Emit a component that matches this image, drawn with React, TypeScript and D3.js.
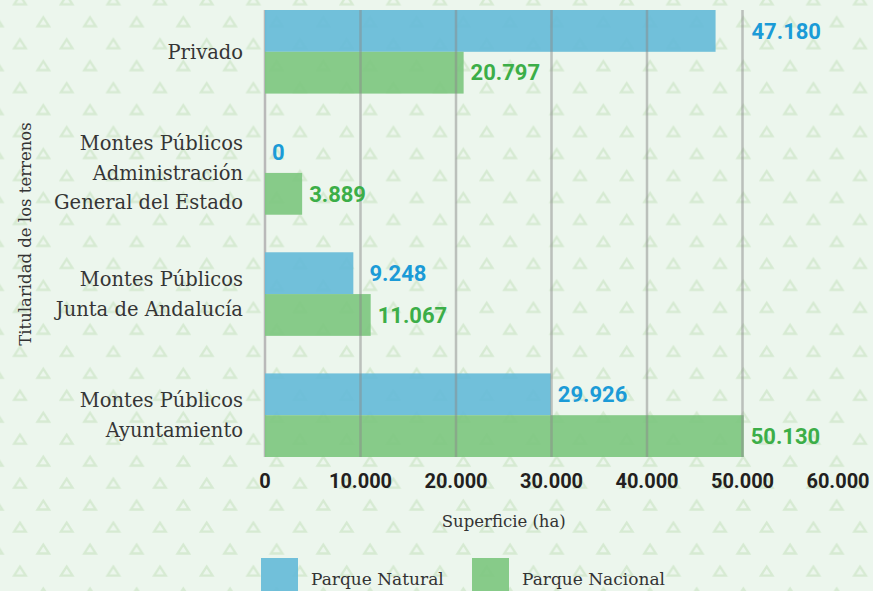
import React from 'react';
import * as d3 from 'd3';

const categories = [
  'Privado',
  'Montes Públicos\nAdministración\nGeneral del Estado',
  'Montes Públicos\nJunta de Andalucía',
  'Montes Públicos\nAyuntamiento',
];
const parqueNatural = [47180, 0, 9248, 29926];
const parqueNacional = [20797, 3889, 11067, 50130];
const xTicks = [0, 10000, 20000, 30000, 40000, 50000, 60000];
const seriesNames = ['Parque Natural', 'Parque Nacional'];

const W = 873;
const H = 591;
const BG = '#ecf6ed';
const TRI = '#d6eAd2';
const BAR_COLORS = ['#66bbd8', '#7ec780'];
const LABEL_COLORS = ['#1b9bd7', '#3cae48'];
const SERIF = '"Roboto Slab", "DejaVu Serif", serif';
const SANS = 'Roboto, "Open Sans", sans-serif';

const fmt = d3.formatLocale({ decimal: ',', thousands: '.', grouping: [3], currency: ['', ''] }).format(',');

// measure text for label placement
const ctx = typeof document !== 'undefined' ? document.createElement('canvas').getContext('2d') : null;
function textWidth(s: string, font: string) {
  if (!ctx) return s.length * 12;
  ctx.font = font;
  return ctx.measureText(s).width;
}

export default function App() {
  const x = d3.scaleLinear().domain([0, 60000]).range([265, 838]);
  const y = d3.scaleBand().domain(categories).range([10, 457]).paddingInner(0.31).paddingOuter(0);
  const inner = d3.scaleBand().domain(seriesNames).range([0, y.bandwidth()]).padding(0);
  const gridTicks = xTicks.filter(t => t > 0 && t < 60000);
  const valueFont = `700 22px Roboto`;

  // value label right of the bar; if a gridline would cut its first half, move it past the line
  const labelX = (v: number) => {
    const w = textWidth(fmt(v), valueFont);
    let start = x(v) + 7;
    for (const t of gridTicks) {
      const gx = x(t);
      if (gx >= start - 4 && gx <= start + w / 2) start = gx + 9;
    }
    return start;
  };

  const series = [parqueNatural, parqueNacional];
  const gridTop = y.range()[0];
  const gridBottom = y.range()[1];
  const titleX = (x(0) + x(50000)) / 2;

  return (
    <div style={{ position: 'absolute', left: 0, top: 0 }}>
      <svg width={W} height={H} style={{ display: 'block' }}>
        <defs>
          <pattern id="tri" patternUnits="userSpaceOnUse" x={8.33} y={10.7} width={46.67} height={43.94}>
            <path d="M35,6.5 L40.8,15.5 L29.2,15.5 Z" fill="none" stroke={TRI} strokeWidth={2.3} />
            <path d="M11.67,28.5 L17.47,37.5 L5.87,37.5 Z" fill="none" stroke={TRI} strokeWidth={2.3} />
          </pattern>
        </defs>
        <rect width={W} height={H} fill={BG} />
        <rect width={W} height={H} fill="url(#tri)" />

        {/* zero axis */}
        <line x1={x(0)} x2={x(0)} y1={gridTop} y2={gridBottom} stroke="#b9b9b9" strokeWidth={2.5} />

        {/* bars */}
        {categories.map((c, i) =>
          series.map((s, j) =>
            s[i] > 0 ? (
              <rect
                key={`${i}-${j}`}
                x={x(0)}
                y={(y(c) ?? 0) + (inner(seriesNames[j]) ?? 0)}
                width={x(s[i]) - x(0)}
                height={inner.bandwidth()}
                fill={BAR_COLORS[j]}
                fillOpacity={0.92}
              />
            ) : null
          )
        )}

        {/* grid lines */}
        {gridTicks.map(t => (
          <line key={t} x1={x(t)} x2={x(t)} y1={gridTop} y2={gridBottom} stroke="#8a8a8a" strokeOpacity={0.5} strokeWidth={2.5} />
        ))}

        {/* value labels */}
        {categories.map((c, i) =>
          series.map((s, j) => (
            <text
              key={`l${i}-${j}`}
              x={labelX(s[i])}
              y={(y(c) ?? 0) + (inner(seriesNames[j]) ?? 0) + inner.bandwidth() / 2}
              dy="0.35em"
              fill={LABEL_COLORS[j]}
              fontFamily={SANS}
              fontWeight={700}
              fontSize={22}
            >
              {fmt(s[i])}
            </text>
          ))
        )}

        {/* category labels */}
        {categories.map(c => {
          const lines = c.split('\n');
          const lh = 29.5;
          const cy = (y(c) ?? 0) + y.bandwidth() / 2;
          return (
            <text key={c} x={243} textAnchor="end" fontFamily={SERIF} fontWeight={300} fontSize={19.5} fill="#353535">
              {lines.map((ln, k) => (
                <tspan key={k} x={243} y={cy + (k - (lines.length - 1) / 2) * lh} dy="0.36em">
                  {ln}
                </tspan>
              ))}
            </text>
          );
        })}

        {/* x tick labels */}
        {xTicks.map(t => (
          <text key={t} x={x(t)} y={481} dy="0.35em" textAnchor="middle" fontFamily={SANS} fontWeight={700} fontSize={20} fill="#231f20">
            {fmt(t)}
          </text>
        ))}

        {/* axis titles */}
        <text x={titleX} y={521} dy="0.35em" textAnchor="middle" fontFamily={SERIF} fontSize={16.5} fill="#333">
          Superficie (ha)
        </text>
        <text
          transform={`translate(25,${234}) rotate(-90)`}
          textAnchor="middle"
          dy="0.35em"
          fontFamily={SERIF}
          fontSize={16.5}
          fill="#333"
        >
          Titularidad de los terrenos
        </text>

        {/* legend */}
        {seriesNames.map((n, j) => {
          const lx = [261, 472][j];
          return (
            <g key={n}>
              <rect x={lx} y={558} width={37} height={40} fill={BAR_COLORS[j]} fillOpacity={0.92} />
              <text x={lx + 50} y={585} fontFamily={SERIF} fontSize={17} fill="#333">
                {n}
              </text>
            </g>
          );
        })}
      </svg>
    </div>
  );
}
